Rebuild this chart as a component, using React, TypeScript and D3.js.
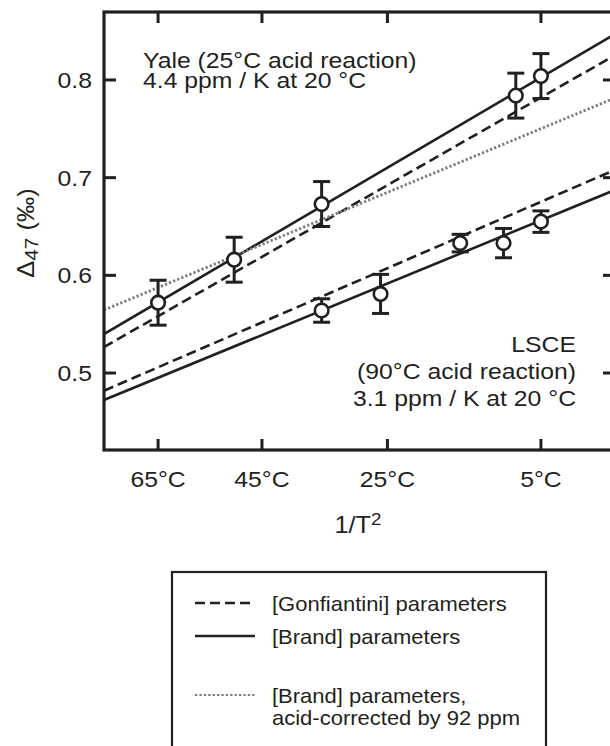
import React from "react";
import * as d3 from "d3";

// Temperatures (°C) of the x-axis ticks; the axis itself is 1/T² (T in K)
const tickTemps = [65, 45, 25, 5];
const yTicks = [0.5, 0.6, 0.7, 0.8];

// Yale measurements (25°C acid reaction)
const yaleTemps = [65, 50, 35, 8, 5];
const yaleD47 = [0.572, 0.616, 0.673, 0.784, 0.804];
const yaleErr = [0.023, 0.023, 0.023, 0.023, 0.023];

// LSCE measurements (90°C acid reaction)
const lsceTemps = [35, 26, 15, 9.5, 5];
const lsceD47 = [0.564, 0.581, 0.633, 0.633, 0.655];
const lsceErr = [0.012, 0.02, 0.009, 0.015, 0.011];

// Regression lines: Δ47 = slope · (10^6 / T²) + intercept
const lineNames = ["yaleBrand", "yaleGonf", "yaleCorr", "lsceGonf", "lsceBrand"];
const lineSlopes = [0.05505, 0.05357, 0.03892, 0.04053, 0.03854];
const lineIntercepts = [0.091, 0.0897, 0.2471, 0.1514, 0.1581];
const lineStyles = ["solid", "dashed", "dotted", "dashed", "solid"];

// Legend entries
const legendStyles = ["dashed", "solid", "dotted"];
const legendLabels = [
  ["[Gonfiantini] parameters"],
  ["[Brand] parameters"],
  ["[Brand] parameters,", "acid-corrected by 92 ppm"],
];

const INK = "#231f20";
const FONT = "'Liberation Sans', Arial, Helvetica, sans-serif";
const STRETCH = 1.1; // the typeface is set slightly wide

const invT2 = (c: number) => 1e6 / Math.pow(c + 273.15, 2);

const W = 610;
const H = 746;
const plot = { left: 104, right: 615, top: 12, bottom: 450 };

const x = d3.scaleLinear().domain([8.155, 13.734]).range([plot.left, plot.right]);
const y = d3.scaleLinear().domain([0.4212, 0.8696]).range([plot.bottom, plot.top]);

function strokeFor(style: string) {
  if (style === "dashed") return { stroke: INK, strokeWidth: 2.6, strokeDasharray: "10,5" };
  if (style === "dotted") return { stroke: "#7d7d7d", strokeWidth: 2.8, strokeDasharray: "2.3,2.1" };
  return { stroke: INK, strokeWidth: 2.6 };
}

function Label({ x: tx, y: ty, anchor = "start", size = 22.5, rotate = 0, children }: any) {
  return (
    <text
      transform={`translate(${tx},${ty}) rotate(${rotate}) scale(${STRETCH},1)`}
      textAnchor={anchor}
      fontSize={size}
      fontFamily={FONT}
      fill={INK}
    >
      {children}
    </text>
  );
}

export default function App() {
  const [x0, x1] = x.domain();
  const line = d3
    .line<number[]>()
    .x((d) => x(d[0]))
    .y((d) => y(d[1]));

  const points = (temps: number[], vals: number[], errs: number[]) =>
    temps.map((t, i) => ({ cx: x(invT2(t)), v: vals[i], e: errs[i] }));

  const series = [
    ...points(yaleTemps, yaleD47, yaleErr),
    ...points(lsceTemps, lsceD47, lsceErr),
  ];

  const legendX = 172;
  const legendY = 572;
  const legendRows = [603, 636, 695];

  return (
    <svg
      width={W}
      height={H}
      style={{ position: "absolute", left: 0, top: 0, background: "#fff" }}
    >
      <defs>
        <clipPath id="plotClip">
          <rect x={plot.left} y={plot.top} width={plot.right - plot.left} height={plot.bottom - plot.top} />
        </clipPath>
      </defs>
      <rect width={W} height={H} fill="#fff" />

      {/* regression lines */}
      <g clipPath="url(#plotClip)" fill="none">
        {lineNames.map((n, i) => (
          <path
            key={n}
            d={
              line([
                [x0, lineSlopes[i] * x0 + lineIntercepts[i]],
                [x1, lineSlopes[i] * x1 + lineIntercepts[i]],
              ]) as string
            }
            {...strokeFor(lineStyles[i])}
          />
        ))}
      </g>

      {/* error bars and markers */}
      <g>
        {series.map((p, i) => (
          <g key={i}>
            <line x1={p.cx} x2={p.cx} y1={y(p.v + p.e)} y2={y(p.v - p.e)} stroke={INK} strokeWidth={3} />
            <line x1={p.cx - 8.5} x2={p.cx + 8.5} y1={y(p.v + p.e)} y2={y(p.v + p.e)} stroke={INK} strokeWidth={3} />
            <line x1={p.cx - 8.5} x2={p.cx + 8.5} y1={y(p.v - p.e)} y2={y(p.v - p.e)} stroke={INK} strokeWidth={3} />
            <circle cx={p.cx} cy={y(p.v)} r={6.8} fill="#fff" stroke={INK} strokeWidth={2.6} />
          </g>
        ))}
      </g>

      {/* frame */}
      <rect
        x={plot.left}
        y={plot.top}
        width={plot.right - plot.left}
        height={plot.bottom - plot.top}
        fill="none"
        stroke={INK}
        strokeWidth={3.2}
      />

      {/* x ticks (top and bottom) */}
      {tickTemps.map((t) => {
        const px = x(invT2(t));
        return (
          <g key={t}>
            <line x1={px} x2={px} y1={plot.bottom} y2={plot.bottom - 11} stroke={INK} strokeWidth={3} />
            <line x1={px} x2={px} y1={plot.top} y2={plot.top + 11} stroke={INK} strokeWidth={3} />
            <Label x={px} y={487} anchor="middle">{`${t}°C`}</Label>
          </g>
        );
      })}

      {/* y ticks (left and right) */}
      {yTicks.map((v) => (
        <g key={v}>
          <line x1={plot.left} x2={plot.left + 12} y1={y(v)} y2={y(v)} stroke={INK} strokeWidth={3} />
          <line x1={plot.right} x2={plot.right - 12} y1={y(v)} y2={y(v)} stroke={INK} strokeWidth={3} />
          <Label x={92} y={y(v) + 8} anchor="end">{d3.format(".1f")(v)}</Label>
        </g>
      ))}

      {/* axis titles */}
      <Label x={358} y={533} anchor="middle" size={23}>
        1/T<tspan fontSize={17} dy={-8}>2</tspan>
      </Label>
      <Label x={34} y={233} anchor="middle" size={23} rotate={-90}>
        Δ<tspan fontSize={19} dy={4}>47</tspan>
        <tspan dy={-4}> (‰)</tspan>
      </Label>

      {/* annotations */}
      <Label x={143} y={68}>Yale (25°C acid reaction)</Label>
      <Label x={143} y={88}>4.4 ppm / K at 20 °C</Label>
      <Label x={576} y={352} anchor="end">LSCE</Label>
      <Label x={576} y={379} anchor="end">(90°C acid reaction)</Label>
      <Label x={576} y={406} anchor="end">3.1 ppm / K at 20 °C</Label>

      {/* legend */}
      <rect x={legendX} y={legendY} width={374} height={200} fill="#fff" stroke={INK} strokeWidth={2.2} />
      {legendStyles.map((s, i) => {
        const rowY = legendRows[i];
        return (
          <g key={s}>
            <line x1={195} x2={255} y1={rowY} y2={rowY} {...strokeFor(s)} strokeWidth={s === "dotted" ? 2 : 2.6} />
            {legendLabels[i].map((t, j) => (
              <Label key={j} x={272} y={rowY + 8 + j * 22} size={20}>
                {t}
              </Label>
            ))}
          </g>
        );
      })}
    </svg>
  );
}
